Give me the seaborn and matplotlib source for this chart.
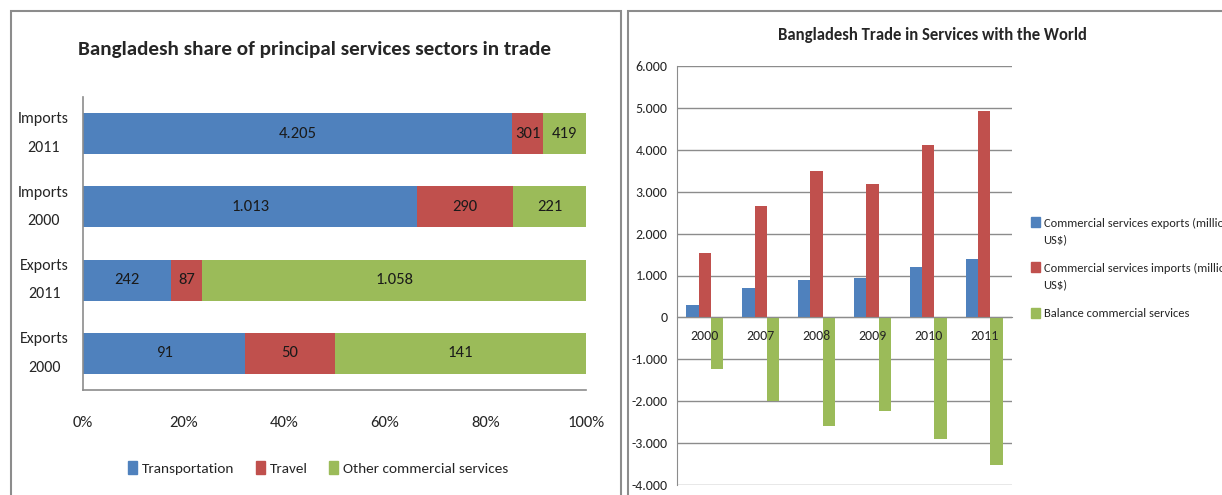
import matplotlib
matplotlib.use('Agg')
import pandas as pd
import matplotlib.pyplot as plt
import seaborn as sns
from matplotlib.patches import Patch, Rectangle
from matplotlib.legend_handler import HandlerPatch

# left chart: share of principal services sectors (million US$)
flows = ['Imports\n2011', 'Imports\n2000', 'Exports\n2011', 'Exports\n2000']
transportation = [4205, 1013, 242, 91]
travel = [301, 290, 87, 50]
other_services = [419, 221, 1058, 141]
sectors = ['Transportation', 'Travel', 'Other commercial services']

# right chart: trade in services with the world
years = ['2000', '2007', '2008', '2009', '2010', '2011']
exports = [294, 692, 890, 946, 1208, 1383]
imports = [1526, 2663, 3490, 3188, 4126, 4920]
balance = [-1232, -1995, -2591, -2234, -2909, -3529]
series = ['Commercial services exports (million US$)',
          'Commercial services imports (million US$)',
          'Balance commercial services']

blue, red, green = '#4F81BD', '#C0504D', '#9BBB59'
grey = '#8c8c8c'

sns.set_style('white')
plt.rcParams['font.family'] = ['Carlito', 'Fira Sans Condensed', 'DejaVu Sans']


def fmt(v):
    # excel style thousands separator
    return f'{v:,}'.replace(',', '.')


def top_square(legend, orig_handle, xdescent, ydescent, width, height, fontsize):
    # put the legend square next to the first line of a two line label
    return Rectangle((-xdescent, -ydescent + 0.8 * fontsize), width, height)


W, H = 1222, 495
fig = plt.figure(figsize=(W / 100, H / 100), dpi=100)

# ---------------- left panel ----------------
ax1 = fig.add_axes([83 / W, 1 - 390 / H, 503 / W, 293 / H])
df_l = pd.DataFrame({'flow': flows, 'Transportation': transportation,
                     'Travel': travel, 'Other commercial services': other_services})
pct = df_l[sectors].div(df_l[sectors].sum(axis=1), axis=0) * 100
cum = pct.cumsum(axis=1)
cols = {'Transportation': blue, 'Travel': red, 'Other commercial services': green}

# stacked bars drawn from the longest cumulative bar back to the first sector
for s in reversed(sectors):
    sns.barplot(x=cum[s], y=df_l['flow'], color=cols[s], orient='h', width=0.56,
                saturation=1, linewidth=0, ax=ax1)

for s in sectors:
    for i in range(len(flows)):
        ax1.text(cum[s][i] - pct[s][i] / 2, i, fmt(df_l[s][i]), ha='center', va='center',
                 fontsize=12, color='#1a1a1a')

ax1.set_xlim(0, 100)
ax1.set_xticks(range(0, 101, 20))
ax1.set_xticklabels([f'{t}%' for t in range(0, 101, 20)])
ax1.set_xlabel('')
ax1.set_ylabel('')
ax1.tick_params(axis='x', length=0, pad=19, labelsize=12)
ax1.tick_params(axis='y', length=0, pad=10, labelsize=11.5)
for lab in ax1.get_yticklabels():
    lab.set_multialignment('center')
    lab.set_verticalalignment('center')
    lab.set_linespacing(2.3)
for side in ['top', 'right']:
    ax1.spines[side].set_visible(False)
for side in ['left', 'bottom']:
    ax1.spines[side].set_color(grey)
    ax1.spines[side].set_linewidth(1.2)

handles = [Patch(color=cols[s]) for s in sectors]
ax1.legend(handles, sectors, loc='center', bbox_to_anchor=(318 / W, 1 - 468 / H),
           bbox_transform=fig.transFigure, ncol=3, frameon=False, fontsize=11,
           handlelength=0.6, handleheight=0.9, handletextpad=0.3, columnspacing=1.4)

fig.text(315 / W, 1 - 50 / H, 'Bangladesh share of principal services sectors in trade',
         ha='center', va='center', fontsize=15.2, fontweight='bold')

# ---------------- right panel ----------------
ax2 = fig.add_axes([677 / W, 1 - 485 / H, 335 / W, 419 / H])
df_r = pd.DataFrame({'year': years * 3,
                     'value': exports + imports + balance,
                     'series': [series[0]] * 6 + [series[1]] * 6 + [series[2]] * 6})
sns.barplot(data=df_r, x='year', y='value', hue='series', palette=[blue, red, green],
            width=0.66, saturation=1, linewidth=0, ax=ax2, legend=False)

ax2.set_axisbelow(False)
ax2.set_ylim(-4000, 6000)
ax2.set_yticks(range(-4000, 6001, 1000))
ax2.set_yticklabels([fmt(t) for t in range(-4000, 6001, 1000)])
for t in ax2.get_yticks():
    ax2.axhline(t, color=grey, lw=1, zorder=0)
ax2.set_xlim(-0.5, len(years) - 0.5)
ax2.set_xlabel('')
ax2.set_ylabel('')
ax2.spines['bottom'].set_position(('data', 0))
ax2.spines['bottom'].set_color(grey)
ax2.spines['left'].set_color(grey)
ax2.spines['top'].set_visible(False)
ax2.spines['right'].set_visible(False)
ax2.set_xticks([i - 0.5 for i in range(len(years) + 1)], minor=True)
ax2.tick_params(axis='x', which='major', length=0, pad=9, labelsize=10)
ax2.tick_params(axis='x', which='minor', length=4, color=grey, direction='out')
ax2.tick_params(axis='y', length=0, pad=7, labelsize=10)

wrapped = ['Commercial services exports (million\nUS$)',
           'Commercial services imports (million\nUS$)',
           'Balance commercial services']
leg_handles = [Patch(color=c) for c in [blue, red, green]]
leg = ax2.legend(leg_handles, wrapped, loc='upper left',
                 bbox_to_anchor=(1031 / W, 1 - 218 / H), bbox_transform=fig.transFigure,
                 frameon=False, fontsize=9, handlelength=0.7, handleheight=0.9,
                 handletextpad=0.3, labelspacing=1.4, alignment='left',
                 borderpad=0, borderaxespad=0,
                 handler_map={leg_handles[0]: HandlerPatch(patch_func=top_square),
                              leg_handles[1]: HandlerPatch(patch_func=top_square)})
for t in leg.get_texts():
    t.set_linespacing(1.6)

fig.text(932 / W, 1 - 35 / H, 'Bangladesh Trade in Services with the World',
         ha='center', va='center', fontsize=12, fontweight='bold')

# panel frames
fig.add_artist(Rectangle((11 / W, -0.1), (621 - 11) / W, 1.1 - 11 / H,
                         transform=fig.transFigure, fill=False, edgecolor=grey, lw=1.5))
fig.add_artist(Rectangle((628 / W, -0.1), 1.0, 1.1 - 11 / H,
                         transform=fig.transFigure, fill=False, edgecolor=grey, lw=1.5))

fig.savefig('out.png', dpi=100)
